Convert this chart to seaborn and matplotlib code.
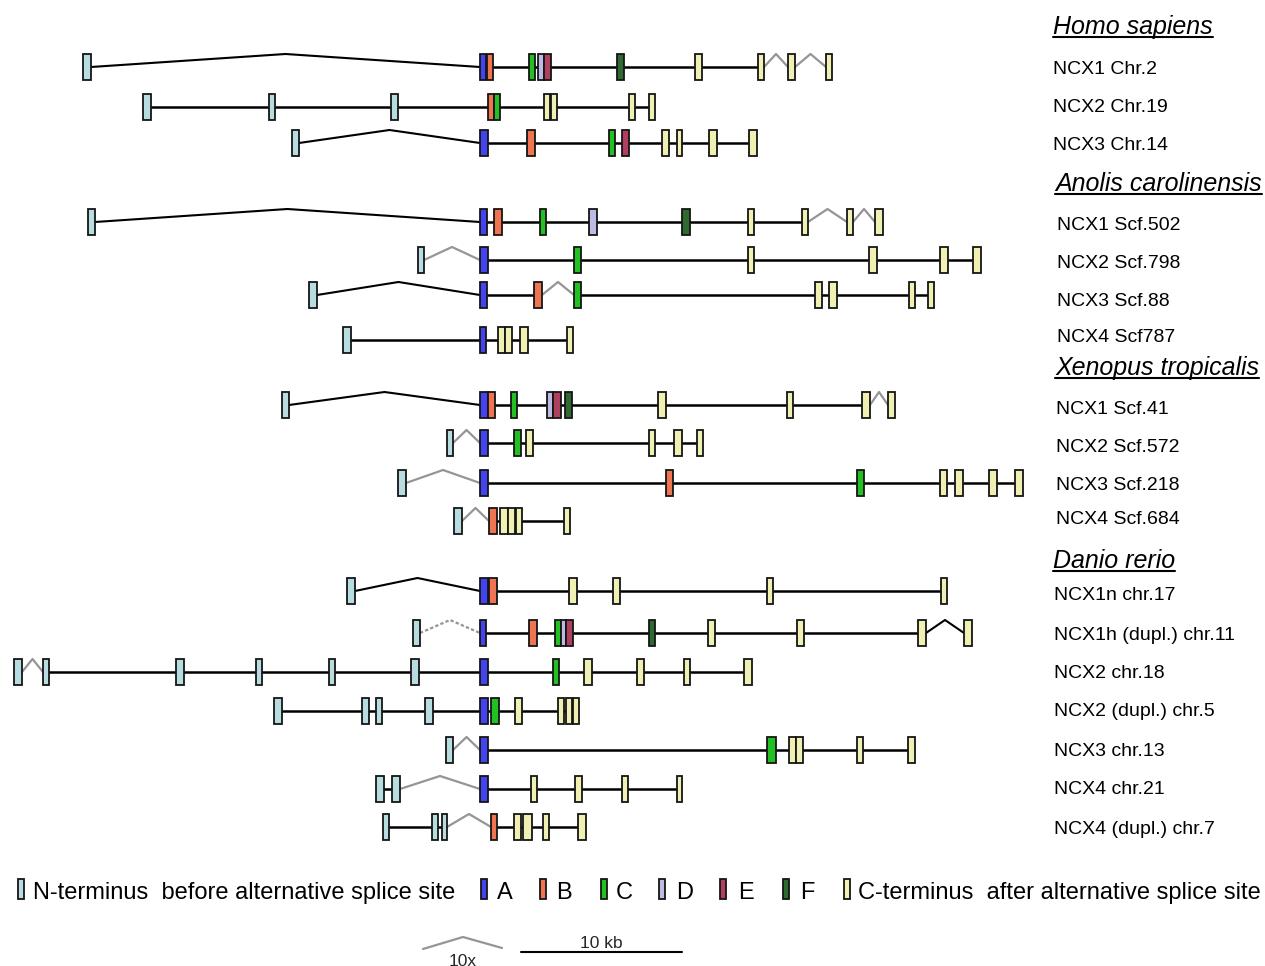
import matplotlib
matplotlib.use("Agg")
import matplotlib.pyplot as plt
from matplotlib.patches import Rectangle
import seaborn as sns
import pandas as pd

# ---------------- data ----------------
# exon tuples: (start, end, exon class); positions in diagram units (161 units = 10 kb)
EXON_CLASSES = ["N", "A", "B", "C", "D", "E", "F", "T"]
LEGEND_LABELS = ["N-terminus  before alternative splice site", "A", "B", "C", "D", "E", "F",
                 "C-terminus  after alternative splice site"]

HS_NCX1 = [(83, 91, "N"), (480, 486, "A"), (487, 493, "B"), (529, 535, "C"), (538, 544, "D"),
           (544, 551, "E"), (617, 624, "F"), (695, 702, "T"), (758, 764, "T"), (788, 795, "T"), (826, 832, "T")]
HS_NCX2 = [(143, 151, "N"), (269, 275, "N"), (391, 398, "N"), (488, 494, "B"), (494, 500, "C"),
           (544, 550, "T"), (551, 557, "T"), (629, 635, "T"), (649, 655, "T")]
HS_NCX3 = [(292, 299, "N"), (480, 488, "A"), (527, 535, "B"), (609, 615, "C"), (622, 629, "E"),
           (662, 669, "T"), (677, 682, "T"), (709, 717, "T"), (749, 757, "T")]
AC_NCX1 = [(88, 95, "N"), (480, 487, "A"), (494, 502, "B"), (540, 546, "C"), (589, 597, "D"),
           (682, 690, "F"), (748, 754, "T"), (802, 808, "T"), (847, 853, "T"), (875, 883, "T")]
AC_NCX2 = [(418, 424, "N"), (480, 488, "A"), (574, 581, "C"), (748, 754, "T"), (869, 877, "T"),
           (940, 948, "T"), (973, 981, "T")]
AC_NCX3 = [(309, 317, "N"), (480, 487, "A"), (534, 542, "B"), (574, 581, "C"), (815, 822, "T"),
           (829, 837, "T"), (909, 915, "T"), (928, 934, "T")]
AC_NCX4 = [(343, 351, "N"), (480, 486, "A"), (498, 505, "T"), (505, 512, "T"), (520, 528, "T"), (567, 573, "T")]
XT_NCX1 = [(282, 289, "N"), (480, 488, "A"), (488, 495, "B"), (511, 517, "C"), (547, 553, "D"),
           (553, 561, "E"), (565, 572, "F"), (658, 666, "T"), (787, 793, "T"), (862, 870, "T"), (888, 895, "T")]
XT_NCX2 = [(447, 453, "N"), (480, 488, "A"), (514, 521, "C"), (526, 533, "T"), (649, 655, "T"),
           (674, 682, "T"), (697, 703, "T")]
XT_NCX3 = [(398, 406, "N"), (480, 488, "A"), (666, 673, "B"), (857, 864, "C"), (940, 947, "T"),
           (955, 963, "T"), (989, 997, "T"), (1015, 1023, "T")]
XT_NCX4 = [(454, 462, "N"), (489, 497, "B"), (500, 508, "T"), (508, 515, "T"), (516, 522, "T"), (564, 570, "T")]
DR_NCX1N = [(347, 355, "N"), (480, 488, "A"), (489, 497, "B"), (569, 577, "T"), (613, 620, "T"),
            (767, 773, "T"), (941, 947, "T")]
DR_NCX1H = [(413, 420, "N"), (480, 486, "A"), (529, 537, "B"), (555, 561, "C"), (561, 566, "D"),
            (566, 573, "E"), (649, 655, "F"), (708, 715, "T"), (797, 804, "T"), (918, 926, "T"), (964, 972, "T")]
DR_NCX2 = [(14, 22, "N"), (43, 49, "N"), (176, 184, "N"), (256, 262, "N"), (329, 335, "N"), (411, 419, "N"),
           (480, 488, "A"), (553, 559, "C"), (584, 592, "T"), (637, 644, "T"), (684, 690, "T"), (744, 752, "T")]
DR_NCX2D = [(274, 282, "N"), (362, 369, "N"), (376, 382, "N"), (425, 433, "N"), (480, 488, "A"),
            (491, 499, "C"), (515, 522, "T"), (558, 564, "T"), (566, 572, "T"), (573, 579, "T")]
DR_NCX3 = [(446, 453, "N"), (480, 488, "A"), (767, 776, "C"), (789, 796, "T"), (796, 803, "T"),
           (857, 863, "T"), (908, 915, "T")]
DR_NCX4 = [(376, 384, "N"), (392, 400, "N"), (480, 488, "A"), (531, 537, "T"), (575, 582, "T"),
           (622, 628, "T"), (677, 682, "T")]
DR_NCX4D = [(383, 389, "N"), (432, 438, "N"), (442, 447, "N"), (491, 497, "B"), (514, 521, "T"),
            (523, 532, "T"), (543, 549, "T"), (578, 586, "T")]

# intron drawing between consecutive exons: '-' straight, 'b' bent (black), 'g' 10x compressed (grey), 'd' dotted grey
GENES = [HS_NCX1, HS_NCX2, HS_NCX3, AC_NCX1, AC_NCX2, AC_NCX3, AC_NCX4,
         XT_NCX1, XT_NCX2, XT_NCX3, XT_NCX4,
         DR_NCX1N, DR_NCX1H, DR_NCX2, DR_NCX2D, DR_NCX3, DR_NCX4, DR_NCX4D]
LINKS = ["b-------gg", "--------", "b-------", "b------gg", "g-----", "b-g----", "-----",
         "b--------g", "g-----", "g------", "g----",
         "b-----", "d--------b", "g----------", "---------", "g-----", "-g----", "--g----"]
GENE_LABELS = ["NCX1 Chr.2", "NCX2 Chr.19", "NCX3 Chr.14",
               "NCX1 Scf.502", "NCX2 Scf.798", "NCX3 Scf.88", "NCX4 Scf787",
               "NCX1 Scf.41", "NCX2 Scf.572", "NCX3 Scf.218", "NCX4 Scf.684",
               "NCX1n chr.17", "NCX1h (dupl.) chr.11", "NCX2 chr.18", "NCX2 (dupl.) chr.5",
               "NCX3 chr.13", "NCX4 chr.21", "NCX4 (dupl.) chr.7"]
SPECIES = ["Homo sapiens", "Anolis carolinensis", "Xenopus tropicalis", "Danio rerio"]
SCALE_LABELS = ["10x", "10 kb"]
SCALE_KB = 10

# ---------------- layout / style ----------------
ROW_Y = [67, 107, 143, 222, 260, 295, 340, 405, 443, 483, 521, 591, 633, 672, 711, 750, 789, 827]
LABEL_Y = [69, 107, 145, 225, 263, 301, 338, 409, 448, 486, 520, 596, 635, 673, 712, 751, 790, 829]
LABEL_X = [1053] * 3 + [1057] * 4 + [1056] * 4 + [1054] * 7
SPECIES_POS = [(1053, 27), (1055, 184), (1055, 368), (1053, 561)]
COLORS = {"N": "#b8dde0", "A": "#4343f0", "B": "#f07352", "C": "#22c022",
          "D": "#bcbce3", "E": "#b0405f", "F": "#2f6a30", "T": "#f1f0b3"}
EXON_H = 26
PEAK = 13
UNITS_PER_KB = 16.1

W, H = 1265, 966
sns.set_theme(style="white")
plt.rcParams["font.family"] = ["Liberation Sans", "DejaVu Sans"]

fig = plt.figure(figsize=(W / 100, H / 100), dpi=100)
ax = fig.add_axes([0, 0, 1, 1])

# intron segments as a long table for seaborn
rows = []
seg = 0
for gi, (gene, links) in enumerate(zip(GENES, LINKS)):
    y = ROW_Y[gi]
    for i, code in enumerate(links):
        x1 = gene[i][1]
        x2 = gene[i + 1][0]
        if code == "-":
            pts = [(x1, y), (x2, y)]
        else:
            pts = [(x1, y), ((x1 + x2) / 2, y - PEAK), (x2, y)]
        for (px, py) in pts:
            rows.append({"seg": seg, "x": px, "y": py, "kind": code})
        seg += 1
df = pd.DataFrame(rows)

styles = {"-": dict(color="black", lw=1.8, ls="-"),
          "b": dict(color="black", lw=1.5, ls="-"),
          "g": dict(color="#959595", lw=1.6, ls="-"),
          "d": dict(color="#959595", lw=1.6, ls=(0, (1.5, 1)))}
for code, st in styles.items():
    sub = df[df["kind"] == code]
    if len(sub):
        sns.lineplot(data=sub, x="x", y="y", units="seg", estimator=None, sort=False,
                     color=st["color"], linewidth=st["lw"], linestyle=st["ls"], ax=ax,
                     legend=False, zorder=1)

# exons
for gi, gene in enumerate(GENES):
    y = ROW_Y[gi]
    for (x1, x2, c) in gene:
        ax.add_patch(Rectangle((x1, y - EXON_H / 2), x2 - x1, EXON_H, facecolor=COLORS[c],
                               edgecolor="#151515", lw=1.3, zorder=3))

# gene labels
for gi, lab in enumerate(GENE_LABELS):
    ax.text(LABEL_X[gi], LABEL_Y[gi], lab, fontsize=14, va="center", ha="left", color="black")

# species headers (italic, underlined)
sp_texts = []
for name, (sx, sy) in zip(SPECIES, SPECIES_POS):
    t = ax.text(sx, sy, name, fontsize=18, style="italic", va="center", ha="left", color="black")
    sp_texts.append(t)

# legend
LEG_RECT_X = [18, 481, 540, 601, 659, 720, 783, 844]
LEG_TEXT_X = [33, 497, 556, 616, 676, 738, 800, 858]
LEG_Y = 889
for cls, lab, rx, tx in zip(EXON_CLASSES, LEGEND_LABELS, LEG_RECT_X, LEG_TEXT_X):
    ax.add_patch(Rectangle((rx, LEG_Y - 10), 6, 20, facecolor=COLORS[cls], edgecolor="#151515",
                           lw=1.3, zorder=3))
    ax.text(tx, LEG_Y + 4, lab, fontsize=17, va="center", ha="left", color="black")

# scale marks
ax.plot([423, 463, 502], [949, 937, 948], color="#959595", lw=1.6)
ax.text(463, 961, SCALE_LABELS[0], fontsize=12.5, ha="center", va="center")
sb_x0 = 521
ax.plot([sb_x0, sb_x0 + SCALE_KB * UNITS_PER_KB], [952, 952], color="black", lw=1.5)
ax.text(sb_x0 + SCALE_KB * UNITS_PER_KB / 2, 943, SCALE_LABELS[1], fontsize=12.5, ha="center", va="center")

ax.set_xlim(0, W)
ax.set_ylim(H, 0)
ax.axis("off")

# underline species names
fig.canvas.draw()
r = fig.canvas.get_renderer()
inv = ax.transData.inverted()
for t in sp_texts:
    bb = t.get_window_extent(renderer=r)
    (x0, y0), (x1, _) = inv.transform([(bb.x0, bb.y0), (bb.x1, bb.y0)])
    ax.plot([x0, min(x1, W)], [y0 - 2, y0 - 2], color="black", lw=1.5, clip_on=False)

fig.savefig("out.png", dpi=100)
